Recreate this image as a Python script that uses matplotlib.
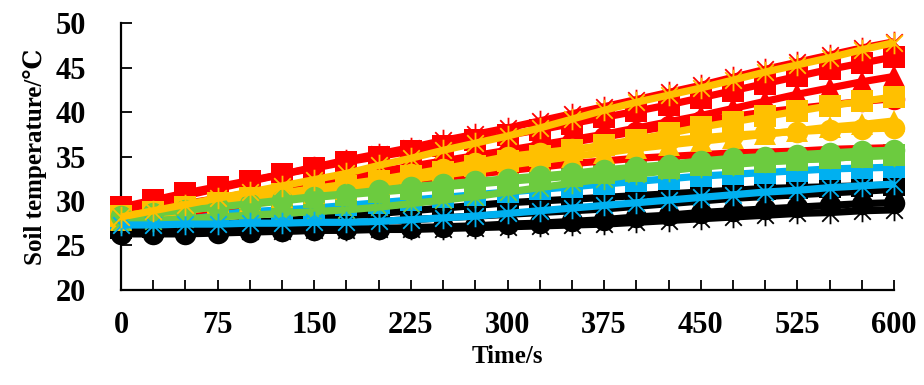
import matplotlib
matplotlib.use("Agg")
import matplotlib.pyplot as plt
from matplotlib.path import Path
from matplotlib.ticker import MultipleLocator

# time axis (s)
time_s = [0, 25, 50, 75, 100, 125, 150, 175, 200, 225, 250, 275, 300,
          325, 350, 375, 400, 425, 450, 475, 500, 525, 550, 575, 600]

# soil temperature series (deg C)
red_star = [28.8, 29.7, 30.6, 31.4, 32.2, 33.0, 33.8, 34.6, 35.3, 36.0, 36.8, 37.5, 38.2,
            39.0, 39.8, 40.6, 41.4, 42.2, 43.0, 43.9, 44.8, 45.6, 46.4, 47.2, 47.9]
red_square = [29.3, 30.1, 30.9, 31.6, 32.3, 33.0, 33.7, 34.4, 35.0, 35.6, 36.2, 36.8, 37.4,
              38.0, 38.7, 39.4, 40.1, 40.8, 41.6, 42.4, 43.2, 44.0, 44.8, 45.5, 46.2]
red_triangle = [28.5, 29.1, 29.7, 30.3, 30.9, 31.5, 32.1, 32.7, 33.3, 33.9, 34.5, 35.1, 35.7,
                36.3, 36.9, 37.5, 38.2, 38.9, 39.6, 40.4, 41.2, 42.0, 42.7, 43.4, 44.0]
red_circle = [28.3, 28.8, 29.4, 30.0, 30.6, 31.2, 31.8, 32.4, 33.0, 33.6, 34.2, 34.8, 35.4,
              36.0, 36.6, 37.2, 37.8, 38.4, 39.0, 39.5, 40.0, 40.4, 40.8, 41.2, 41.5]
red_plain = [27.8, 28.2, 28.7, 29.2, 29.7, 30.2, 30.7, 31.2, 31.7, 32.2, 32.6, 33.0, 33.4,
             33.8, 34.2, 34.5, 34.8, 35.0, 35.2, 35.4, 35.5, 35.6, 35.8, 35.9, 36.0]

orange_star = [28.2, 28.9, 29.6, 30.3, 31.0, 31.7, 32.4, 33.1, 34.0, 34.8, 35.7, 36.5, 37.3,
               38.2, 39.2, 40.2, 41.1, 41.9, 42.7, 43.6, 44.5, 45.3, 46.1, 47.0, 47.8]
orange_square = [28.3, 28.8, 29.3, 29.8, 30.3, 30.8, 31.2, 31.7, 32.2, 32.8, 33.3, 33.9, 34.5,
                 35.1, 35.7, 36.3, 36.9, 37.6, 38.3, 38.9, 39.5, 40.1, 40.7, 41.2, 41.7]
orange_circle = [28.0, 28.6, 29.2, 29.8, 30.4, 30.9, 31.4, 31.9, 32.4, 33.0, 33.6, 34.3, 35.0,
                 35.4, 35.8, 36.2, 36.5, 36.8, 37.1, 37.4, 37.6, 37.8, 38.0, 38.1, 38.2]
orange_triangle = [27.9, 28.4, 28.9, 29.4, 29.9, 30.4, 30.9, 31.4, 31.9, 32.4, 32.9, 33.4, 34.0,
                   34.5, 35.0, 35.4, 35.9, 36.3, 36.7, 37.1, 37.5, 37.9, 38.3, 38.6, 39.0]

green_circle = [28.3, 28.6, 29.0, 29.3, 29.7, 30.1, 30.5, 30.8, 31.2, 31.6, 31.9, 32.2, 32.5,
                32.8, 33.1, 33.5, 33.8, 34.1, 34.5, 34.8, 35.0, 35.2, 35.4, 35.6, 35.7]
green_square = [28.5, 28.8, 29.1, 29.4, 29.6, 30.0, 30.4, 30.7, 31.0, 31.3, 31.6, 31.9, 32.2,
                32.5, 32.8, 33.1, 33.4, 33.7, 34.0, 34.2, 34.4, 34.6, 34.8, 35.0, 35.2]
green_star = [27.6, 27.8, 28.0, 28.2, 28.4, 28.6, 28.8, 29.0, 29.3, 29.7, 30.1, 30.5, 31.0,
              31.5, 32.0, 32.5, 33.0, 33.4, 33.8, 34.1, 34.4, 34.6, 34.8, 35.0, 35.1]

blue_square = [28.0, 28.2, 28.4, 28.6, 28.8, 29.0, 29.2, 29.5, 29.8, 30.1, 30.4, 30.7, 31.0,
               31.3, 31.6, 31.9, 32.2, 32.5, 32.8, 33.0, 33.2, 33.4, 33.6, 33.7, 33.8]
blue_star = [27.3, 27.3, 27.4, 27.4, 27.5, 27.5, 27.6, 27.6, 27.7, 27.9, 28.1, 28.3, 28.6,
             28.9, 29.2, 29.5, 29.8, 30.1, 30.4, 30.7, 31.0, 31.2, 31.5, 31.7, 31.9]

black_square = [27.0, 27.1, 27.2, 27.4, 27.6, 27.8, 28.0, 28.3, 28.6, 28.9, 29.2, 29.5, 29.8,
                30.0, 30.2, 30.4, 30.6, 30.8, 31.0, 31.2, 31.4, 31.5, 31.6, 31.7, 31.8]
black_star = [26.8, 26.9, 27.0, 27.1, 27.2, 27.3, 27.4, 27.5, 27.7, 27.9, 28.1, 28.3, 28.5,
              28.7, 28.9, 29.1, 29.4, 29.7, 30.0, 30.3, 30.5, 30.7, 30.9, 31.1, 31.3]
black_circle = [26.3, 26.3, 26.3, 26.4, 26.5, 26.6, 26.7, 26.8, 26.9, 27.0, 27.1, 27.2, 27.4,
                27.5, 27.7, 27.9, 28.2, 28.4, 28.7, 28.9, 29.1, 29.3, 29.5, 29.7, 29.8]
black_star_low = [26.5, 26.5, 26.5, 26.6, 26.6, 26.6, 26.7, 26.7, 26.8, 26.8, 26.9, 27.0, 27.1,
                  27.2, 27.3, 27.4, 27.6, 27.8, 28.0, 28.2, 28.4, 28.6, 28.7, 28.9, 29.0]

RED = "#FF0000"
ORANGE = "#FFC000"
GREEN = "#6CCB3F"
BLUE = "#00B0F0"
BLACK = "#000000"

# star marker: an "x" crossed by a vertical bar
STAR = Path([(-1, -1), (1, 1), (-1, 1), (1, -1), (0, -1.3), (0, 1.3)],
            [Path.MOVETO, Path.LINETO, Path.MOVETO, Path.LINETO, Path.MOVETO, Path.LINETO])

plt.rcParams["font.family"] = ["Liberation Serif", "DejaVu Serif"]
plt.rcParams["font.weight"] = "bold"

fig = plt.figure(figsize=(9.24, 3.85), dpi=100)
ax = fig.add_axes([0.131, 0.247, 0.8365, 0.693])

LW = 5.2
MS = 15.5


def draw(values, color, marker, z):
    if marker == "star":
        ax.plot(time_s, values, color=color, lw=LW, marker=STAR, ms=MS,
                mew=1.3, mec=color, zorder=z, clip_on=False, solid_capstyle="butt")
    elif marker is None:
        ax.plot(time_s, values, color=color, lw=LW, zorder=z, clip_on=False)
    else:
        ax.plot(time_s, values, color=color, lw=LW, marker=marker, ms=MS,
                mew=0, mfc=color, zorder=z, clip_on=False)


draw(black_circle, BLACK, "o", 2)
draw(black_square, BLACK, "s", 2.1)
draw(black_star_low, BLACK, "star", 2.2)
draw(black_star, BLACK, "star", 2.3)
draw(blue_square, BLUE, "s", 2.4)
draw(green_square, GREEN, "s", 2.5)
draw(red_plain, RED, None, 2.6)
draw(red_circle, RED, "o", 2.7)
draw(red_triangle, RED, "^", 2.8)
draw(red_square, RED, "s", 2.9)
draw(red_star, RED, "star", 3.0)
draw(orange_triangle, ORANGE, "^", 3.1)
draw(orange_circle, ORANGE, "o", 3.2)
draw(orange_square, ORANGE, "s", 3.3)
draw(green_circle, GREEN, "o", 3.4)
draw(green_star, GREEN, "star", 3.5)
draw(blue_star, BLUE, "star", 3.6)
draw(orange_star, ORANGE, "star", 3.7)

ax.set_xlim(0, 600)
ax.set_ylim(20, 50)
ax.xaxis.set_major_locator(MultipleLocator(75))
ax.xaxis.set_minor_locator(MultipleLocator(25))
ax.yaxis.set_major_locator(MultipleLocator(5))

for side in ("top", "right"):
    ax.spines[side].set_visible(False)
for side in ("left", "bottom"):
    ax.spines[side].set_linewidth(1.6)
    ax.spines[side].set_zorder(1)

ax.tick_params(axis="x", which="both", direction="in", length=7, width=1.3,
               pad=15, labelsize=22)
ax.tick_params(axis="x", which="minor", labelbottom=False)
ax.tick_params(axis="y", direction="in", length=8, width=1.3, pad=25, labelsize=22)

ax.set_xlabel("Time/s", fontsize=18, fontweight="bold", labelpad=4)
ax.set_ylabel("Soil temperature/\u2103", fontsize=18, fontweight="bold", labelpad=6)

fig.savefig("out.png", dpi=100)
